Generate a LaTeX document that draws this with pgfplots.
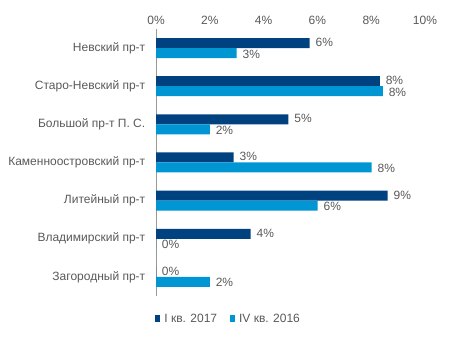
\documentclass[border=0pt]{standalone}
\usepackage{fontspec}
\setmainfont{Liberation Sans}
\usepackage{pgfplots}
\pgfplotsset{compat=1.18}
\definecolor{dark}{HTML}{00427F}
\definecolor{light}{HTML}{0095D3}
\definecolor{txt}{HTML}{595959}
\begin{document}
\begin{tikzpicture}
\useasboundingbox (0,0) rectangle (453bp,339bp);
\begin{axis}[
  at={(156bp,43bp)}, anchor=south west,
  scale only axis, width=269bp, height=267bp,
  xbar, bar width=10bp,
  xmin=0, xmax=10,
  ymin=-0.5, ymax=6.5,
  axis x line*=top, axis y line*=left,
  x axis line style={draw=none},
  y axis line style={draw=black!40},
  tick style={draw=none},
  xtick={0,2,...,10},
  xticklabel={\pgfmathprintnumber{\tick}\%},
  /pgf/number format/assume math mode=true,
  ytick={0,...,6},
  yticklabels={Загородный пр-т, Владимирский пр-т, Литейный пр-т, Каменноостровский пр-т, Большой пр-т П. С., Старо-Невский пр-т, Невский пр-т},
  tick label style={text=txt, font=\fontsize{12bp}{14bp}\selectfont},
  yticklabel style={xshift=-3bp},
  xticklabel style={yshift=1bp},
  point meta=x,
  nodes near coords={\pgfmathprintnumber[fixed,precision=0]{\pgfplotspointmeta}\%},
  nodes near coords style={text=txt, font=\fontsize{12bp}{14bp}\selectfont, anchor=west, inner sep=0.3bp, text depth=0pt, xshift=5.5bp},
  legend style={at={(rel axis cs:0.27,-0.086)}, anchor=center, draw=none, legend columns=2,
    font=\fontsize{12bp}{14bp}\selectfont, text=txt,
    /tikz/every even column/.append style={column sep=11bp}},
  legend image code/.code={\fill[#1,draw=none] (0bp,-3.5bp) rectangle (5bp,3.5bp); \path (7bp,0);},
]
\addplot[fill=dark, draw=none, bar shift=5bp, nodes near coords style={yshift=0.8bp}] coordinates {
(0,0) (3.52,1) (8.61,2) (2.89,3) (4.92,4) (8.32,5) (5.71,6)};
\addplot[fill=light, draw=none, bar shift=-5bp, nodes near coords style={yshift=-0.8bp}] coordinates {
(2.0,0) (0,1) (6.01,2) (8.02,3) (2.0,4) (8.43,5) (3.0,6)};
\legend{I кв. 2017, IV кв. 2016}
\end{axis}
\end{tikzpicture}
\end{document}
